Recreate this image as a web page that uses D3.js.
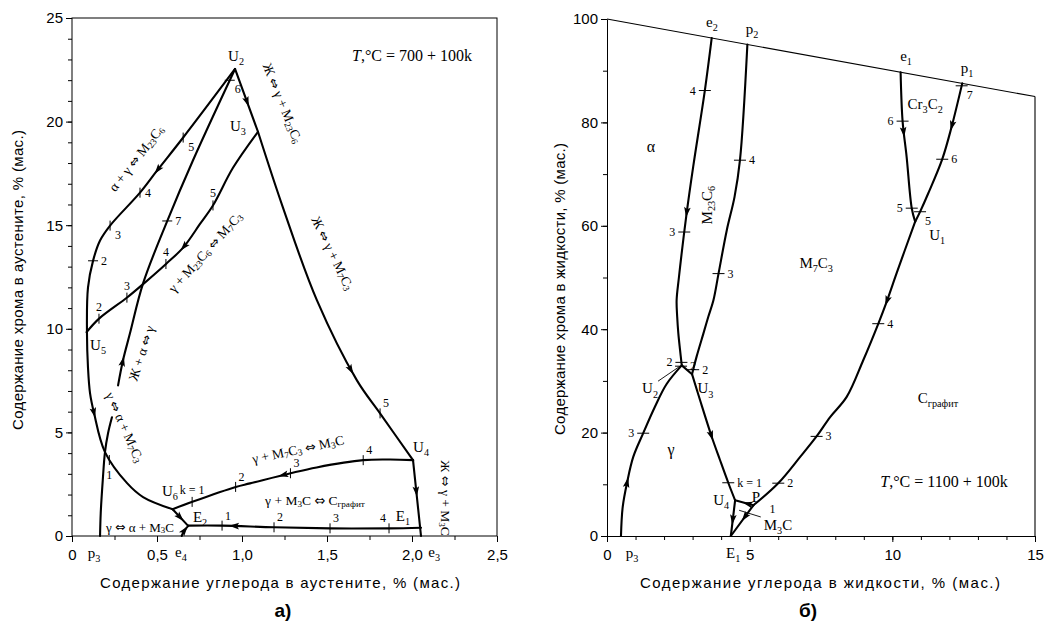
<!DOCTYPE html>
<html><head><meta charset="utf-8">
<script src="https://cdn.jsdelivr.net/npm/d3@7"></script>
<style>
body{margin:0;background:#fff;}
svg{display:block;}
</style></head><body>
<svg id="c" width="1045" height="623"></svg>
<script>
// ---------------- DATA ----------------
// axis ticks
const aXTicks = [0, 0.5, 1, 1.5, 2, 2.5];
const aXTickLabels = ["0", "0,5", "1,0", "1,5", "2,0", "2,5"];
const aYTicks = [0, 5, 10, 15, 20, 25];
const bXTicks = [0, 5, 10, 15];
const bYTicks = [0, 20, 40, 60, 80, 100];

// Panel a): C in austenite (x, %) vs Cr in austenite (y, %)
const aOuter  = [[0.959,22.54],[0.653,19.22],[0.5,17.63],[0.4,16.57],[0.224,14.98],[0.165,14.26],[0.124,13.29],[0.094,11.99],[0.088,9.83],[0.094,8.14],[0.106,6.9],[0.13,5.92],[0.194,4.05],[0.324,2.55],[0.418,1.88],[0.592,1.29]];
const aMid    = [[0.271,7.27],[0.3,8.48],[0.341,9.78],[0.418,12.19],[0.56,15.2],[0.71,18.1],[0.959,22.54]];
const aU3U5   = [[1.094,19.51],[0.947,17.77],[0.829,15.95],[0.753,15.06],[0.655,13.93],[0.553,13.13],[0.42,12.17],[0.324,11.51],[0.159,10.49],[0.086,9.84]];
const aU2U3   = [[0.959,22.54],[1.094,19.51]];
const aU3U4   = [[1.094,19.51],[1.241,15.85],[1.441,11.37],[1.676,7.51],[1.812,5.92],[2.006,3.66]];
const aU4E3   = [[2.006,3.66],[2.053,0]];
const aBottom = [[2.053,0.40],[1.865,0.37],[1.518,0.37],[1.188,0.42],[0.882,0.50],[0.682,0.50]];
const aU4U6   = [[2.007,3.66],[1.871,3.69],[1.713,3.66],[1.439,3.31],[1.286,3.03],[1.047,2.54],[0.963,2.37],[0.708,1.65],[0.592,1.29]];
const aU6E2   = [[0.592,1.29],[0.682,0.5]];
const aE4E2   = [[0.645,0],[0.66,0.25],[0.684,0.49]];
const aP3     = [[0.165,0],[0.169,1.11],[0.181,2.70],[0.194,4.05],[0.212,4.96],[0.235,5.73]];

// arrows: [curve, x, y]  (point along curve, direction = curve order)
const aArrows = [["outer",0.5,17.63],["outer",0.13,5.9],["u3u5",0.655,13.93],["mid",0.3,8.48],["u2u3",1.03,20.9],["u3u4",1.65,8.0],["u4e3",2.03,2.1],["u4u6",1.235,2.95],["bottom",0.947,0.49],["u6e2",0.64,0.88],["e4e2",0.668,0.3]];
// temperature marks: [curve, x, y, k, label side]
const aTicks = [["outer",0.653,19.22,"5","dr"],["outer",0.4,16.57,"4","r"],["outer",0.224,14.98,"3","dr"],["outer",0.124,13.29,"2","r"],["outer",0.224,3.7,"1","d"],
  ["mid",0.56,15.2,"7","r"],["mid",0.93,22.0,"6","dr"],
  ["u3u5",0.159,10.49,"2","u"],["u3u5",0.324,11.51,"3","u"],["u3u5",0.553,13.13,"4","u"],["u3u5",0.829,15.95,"5","u"],
  ["u3u4",1.812,5.92,"5","ur"],
  ["u4u6",0.708,1.65,"k = 1","u"],["u4u6",0.963,2.37,"2","ur"],["u4u6",1.286,3.03,"3","ur"],["u4u6",1.713,3.66,"4","ur"],
  ["bottom",0.882,0.5,"1","ur"],["bottom",1.188,0.42,"2","ur"],["bottom",1.518,0.37,"3","ur"],["bottom",1.865,0.37,"4","ul"]];
// labels: [text, x, y, angle, size]
const aLabels = [["*T*,°C = 700 + 100k",2.0,22.92,0,16],["U_{2}",0.965,22.92,0,15],["U_{3}",0.976,19.55,0,15],["U_{5}",0.153,8.98,0,15],
  ["U_{6}",0.576,1.93,0,15],["E_{2}",0.753,0.68,0,15],["E_{1}",1.947,0.72,0,15],["U_{4}",2.053,4.05,0,15],
  ["p_{3}",0.13,-1.06,0,15],["e_{4}",0.641,-1.01,0,15],["e_{3}",2.13,-1.01,0,15]];
const aRotLabels = [["α + γ ⇔ M_{23}C_{6}",0.376,18.24,-52,13.5],["Ж ⇔ γ + M_{23}C_{6}",1.241,20.9,68,13.5],["Ж ⇔ γ + M_{7}C_{3}",1.535,13.66,64,13.5],
  ["γ + M_{23}C_{6} ⇔ M_{7}C_{3}",0.782,13.71,-48,13.5],["Ж + α ⇔ γ",0.406,8.83,-72,13.5],["γ ⇔ α + M_{7}C_{3}",0.312,5.26,66,13.5],
  ["Ж ⇔ γ + M_{3}C",2.2,1.83,90,13.5],["γ + M_{7}C_{3} ⇔ M_{3}C",1.329,4.2,-12,13.5],
  ["γ + M_{3}C ⇔ C_{графит}",1.429,1.72,0,13.5],["γ ⇔ α + M_{3}C",0.4,0.45,0,13]];

// Panel б): C in liquid (x, %) vs Cr in liquid (y, %)
const bTop    = [[0,100],[15,85]];
const bRight  = [[15,85],[15,0]];
const bE2U2   = [[3.67,96.33],[3.43,86.2],[3.02,71.4],[2.79,62.4],[2.52,50],[2.44,45.6],[2.46,42.4],[2.50,39.2],[2.56,36.0],[2.62,33.0]];
const bP2U3   = [[4.92,95.08],[4.66,72.7],[4.47,65.6],[4.20,59.2],[3.91,50.8],[3.73,45.6],[3.55,42.4],[3.38,39.2],[3.14,34.7],[2.98,31.3]];
const bU2U3   = [[2.62,33.0],[2.98,31.3]];
const bP3U2   = [[0.49,0],[0.55,5.6],[0.71,10.5],[0.92,15.3],[1.27,19.9],[1.68,25],[2.09,29.4],[2.62,33.0]];
const bU3U4   = [[2.98,31.3],[3.26,26.3],[3.67,19.2],[3.96,14.7],[4.25,10.3],[4.49,6.9]];
const bU4E1   = [[4.49,6.9],[4.34,0]];
const bPU4    = [[5.13,5.94],[4.49,6.9]];
const bU1P    = [[10.80,60.8],[10.16,51.0],[9.80,45.3],[9.51,41.1],[8.98,34.0],[8.40,26.9],[7.82,23.0],[7.35,19.3],[6.77,15.3],[6.0,10.2],[5.13,5.94]];
const bPE1    = [[5.13,5.94],[4.34,0]];
const bE1U1   = [[10.29,89.71],[10.36,80.2],[10.50,73.4],[10.68,63.4],[10.80,60.8]];
const bP1U1   = [[12.45,87.55],[12.08,79.2],[11.75,72.9],[11.26,66.3],[10.97,62.7],[10.80,60.8]];

const bArrows = [["e2u2",2.79,62.4],["p3u2",0.71,10.5],["u3u4",3.67,19.2],["u4e1",4.38,3.0],["pu4",4.9,6.27],["u1p",9.80,45.3],["pe1",4.78,3.68],["e1u1",10.40,77.9],["p1u1",12.08,79.2]];
const bTicks = [["e2u2",3.43,86.2,"4","l"],["e2u2",2.73,58.8,"3","l"],["p2u3",4.66,72.7,"4","r"],["p2u3",3.91,50.8,"3","r"],
  ["e1u1",10.36,80.2,"6","l"],["e1u1",10.68,63.4,"5","l"],["p1u1",12.43,87.1,"7","dr"],["p1u1",11.75,72.9,"6","r"],["p1u1",10.97,62.7,"5","dr"],
  ["u1p",9.51,41.1,"4","r"],["u1p",7.35,19.3,"3","r"],["u1p",6.0,10.2,"2","r"],["u3u4",4.25,10.3,"k = 1","r"],["p3u2",1.27,19.9,"3","l"],
  ["e2u2",2.61,33.6,"2","l"],["p3u2",2.58,32.9,"2","r"],["p2u3",3.03,32.2,"2","r"]];
const bLabels = [["e_{2}",3.68,98.5,0,15],["p_{2}",5.08,97.1,0,15],["e_{1}",10.48,91.9,0,15],["p_{1}",12.62,89.6,0,15],
  ["Cr_{3}C_{2}",11.15,82.6,0,15],["α",1.54,74.3,0,16],["M_{7}C_{3}",7.33,51.8,0,15],["U_{1}",11.57,57.2,0,15],
  ["C_{графит}",11.6,25.7,0,15],["U_{2}",1.51,27.6,0,15],["U_{3}",3.45,27.6,0,15],["γ",2.24,15.6,0,16],
  ["*T*,°C = 1100 + 100k",11.81,9.43,0,16],["P",5.22,6.55,0,15],["U_{4}",4.0,6.0,0,15],["1",5.8,4.4,0,12],
  ["M_{3}C",5.99,1.25,0,15],["p_{3}",0.88,-4.2,0,15],["E_{1}",4.42,-4.2,0,15]];
const bRotLabels = [["M_{23}C_{6}",3.50,64.0,-90,15]];
const bLeaders = [[[1.79,29.95],[2.56,32.85]],[[4.63,4.98],[5.39,3.68]]];

const titles = {
  aX: "Содержание углерода в аустените, % (мас.)",
  aY: "Содержание хрома в аустените, % (мас.)",
  bX: "Содержание углерода в жидкости, % (мас.)",
  bY: "Содержание хрома в жидкости, % (мас.)",
  aP: "а)", bP: "б)"
};

// ---------------- DRAWING ----------------
const svg = d3.select("#c");
const SANS = "'Liberation Sans', Arial, sans-serif";
const SERIF = "'Liberation Serif', 'Times New Roman', serif";

const xA = d3.scaleLinear().domain([0, 2.5]).range([72, 497]);
const yA = d3.scaleLinear().domain([0, 25]).range([536, 18]);
const xB = d3.scaleLinear().domain([0, 15]).range([607, 1035]);
const yB = d3.scaleLinear().domain([0, 100]).range([536, 19]);

function rich(sel, str, fs) {
  const parts = str.split(/(_\{[^}]*\}|\*[^*]*\*|⇔)/g).filter(s => s.length);
  let shifted = 0; const sh = fs * 0.28;
  parts.forEach(p => {
    const t = sel.append("tspan");
    if (p.startsWith("_{")) { t.text(p.slice(2, -1)).attr("font-size", fs * 0.68).attr("dy", sh - shifted); shifted = sh; }
    else if (p.startsWith("*")) { t.text(p.slice(1, -1)).attr("font-style", "italic").attr("dy", -shifted); shifted = 0; }
    else if (p === "⇔") { t.text(p).attr("font-family", "'DejaVu Sans', sans-serif").attr("font-size", fs * 0.95).attr("dy", -shifted); shifted = 0; }
    else { t.text(p).attr("dy", -shifted); shifted = 0; }
  });
}

function nearest(node, px, py) {
  const L = node.getTotalLength();
  let best = 0, bd = Infinity;
  for (let l = 0; l <= L; l += 0.5) { const p = node.getPointAtLength(l); const d = (p.x - px) ** 2 + (p.y - py) ** 2; if (d < bd) { bd = d; best = l; } }
  const p = node.getPointAtLength(best);
  const a = node.getPointAtLength(Math.max(0, best - 1.5)), b = node.getPointAtLength(Math.min(L, best + 1.5));
  return { x: p.x, y: p.y, ang: Math.atan2(b.y - a.y, b.x - a.x) };
}

function panel(cfg) {
  const g = svg.append("g");
  const line = d3.line().x(d => cfg.x(d[0])).y(d => cfg.y(d[1])).curve(d3.curveCatmullRom.alpha(0.5));
  const nodes = {};
  Object.entries(cfg.curves).forEach(([k, pts]) => {
    nodes[k] = g.append("path").attr("d", line(pts)).attr("fill", "none").attr("stroke", "#000")
      .attr("stroke-width", 2.1).attr("stroke-linejoin", "round").attr("stroke-linecap", "round").node();
  });
  (cfg.thin || []).forEach(pts => {
    g.append("path").attr("d", d3.line().x(d => cfg.x(d[0])).y(d => cfg.y(d[1]))(pts)).attr("fill", "none").attr("stroke", "#000").attr("stroke-width", 1.1);
  });
  cfg.arrows.forEach(([c, x, y]) => {
    const n = nearest(nodes[c], cfg.x(x), cfg.y(y));
    g.append("path").attr("d", "M4,0 L-6,-3.3 L-4,0 L-6,3.3 Z").attr("fill", "#000")
      .attr("transform", `translate(${n.x},${n.y}) rotate(${n.ang * 180 / Math.PI})`);
  });
  cfg.ticks.forEach(([c, x, y, t, side]) => {
    const n = nearest(nodes[c], cfg.x(x), cfg.y(y));
    const horiz = cfg.allH || Math.abs(Math.sin(n.ang)) > 0.87;
    const h = cfg.tickHalf;
    if (horiz) g.append("line").attr("x1", n.x - h).attr("x2", n.x + h).attr("y1", n.y).attr("y2", n.y).attr("stroke", "#000").attr("stroke-width", 1);
    else g.append("line").attr("x1", n.x).attr("x2", n.x).attr("y1", n.y - 5).attr("y2", n.y + 5).attr("stroke", "#000").attr("stroke-width", 1);
    let lx = n.x, ly = n.y + 4, anc = "start";
    if (side === "r") { lx = n.x + (horiz ? h + 3 : 5); }
    else if (side === "l") { lx = n.x - (horiz ? h + 3 : 5); anc = "end"; }
    else if (side === "u") { ly = n.y - 8; anc = "middle"; }
    else if (side === "ur") { lx = n.x + 3; ly = n.y - 6; }
    else if (side === "ul") { lx = n.x - 3; ly = n.y - 6; anc = "end"; }
    else if (side === "dr") { lx = n.x + 5; ly = n.y + 13; }
    else if (side === "d") { ly = n.y + 19; anc = "middle"; }
    g.append("text").attr("x", lx).attr("y", ly).attr("text-anchor", anc).attr("font-family", SERIF).attr("font-size", 12).text(t);
  });
  cfg.labels.forEach(([t, x, y, a, fs]) => {
    const tx = g.append("text").attr("x", cfg.x(x)).attr("y", cfg.y(y)).attr("text-anchor", "middle").attr("font-family", SERIF).attr("font-size", fs);
    rich(tx, t, fs);
  });
  cfg.rot.forEach(([t, x, y, a, fs]) => {
    const tx = g.append("text").attr("text-anchor", "middle").attr("dominant-baseline", "central").attr("font-family", SERIF).attr("font-size", fs)
      .attr("transform", `translate(${cfg.x(x)},${cfg.y(y)}) rotate(${a})`);
    rich(tx, t, fs);
  });
  (cfg.leaders || []).forEach(pts => {
    g.append("line").attr("x1", cfg.x(pts[0][0])).attr("y1", cfg.y(pts[0][1])).attr("x2", cfg.x(pts[1][0])).attr("y2", cfg.y(pts[1][1])).attr("stroke", "#000").attr("stroke-width", 0.9);
  });
  return g;
}

function styleAxis(g) {
  g.attr("font-family", SANS).attr("font-size", 15);
  g.selectAll("line").attr("stroke", "#000");
  g.selectAll("path.domain").attr("stroke", "#000");
}

// ---- Panel a axes
svg.append("rect").attr("x", 72).attr("y", 18).attr("width", 425).attr("height", 518).attr("fill", "none").attr("stroke", "#000").attr("stroke-width", 1);
const aMinorX = d3.range(0, 2.51, 0.25);
const aMinorY = d3.range(0, 25.1, 1);
svg.append("g").attr("transform", "translate(0,536)").call(d3.axisBottom(xA).tickValues(aMinorX).tickSize(4).tickFormat("")).call(g => g.select(".domain").remove()).call(styleAxis);
svg.append("g").attr("transform", "translate(72,0)").call(d3.axisLeft(yA).tickValues(aMinorY).tickSize(4).tickFormat("")).call(g => g.select(".domain").remove()).call(styleAxis);
svg.append("g").attr("transform", "translate(0,536)").call(d3.axisBottom(xA).tickValues(aXTicks).tickSize(6).tickPadding(7).tickFormat((d, i) => aXTickLabels[i])).call(g => g.select(".domain").remove()).call(styleAxis);
svg.append("g").attr("transform", "translate(72,0)").call(d3.axisLeft(yA).tickValues(aYTicks).tickSize(6).tickPadding(3).tickFormat(d3.format("d"))).call(g => g.select(".domain").remove()).call(styleAxis);

// ---- Panel б axes
const bMinorX = d3.range(0, 15.1, 1);
const bMinorY = d3.range(0, 100.1, 10);
svg.append("g").attr("transform", "translate(0,536)").call(d3.axisBottom(xB).tickValues(bMinorX).tickSize(4).tickSizeOuter(0).tickFormat("")).call(styleAxis);
svg.append("g").attr("transform", "translate(607,0)").call(d3.axisLeft(yB).tickValues(bMinorY).tickSize(4).tickSizeOuter(0).tickFormat("")).call(styleAxis);
svg.append("g").attr("transform", "translate(0,536)").call(d3.axisBottom(xB).tickValues(bXTicks).tickSize(6).tickPadding(7).tickFormat(d3.format("d"))).call(g => g.select(".domain").remove()).call(styleAxis);
svg.append("g").attr("transform", "translate(607,0)").call(d3.axisLeft(yB).tickValues(bYTicks).tickSize(6).tickPadding(3).tickFormat(d3.format("d"))).call(g => g.select(".domain").remove()).call(styleAxis);

panel({ x: xA, y: yA, tickHalf: 5, allH: false,
  curves: { outer: aOuter, mid: aMid, u3u5: aU3U5, u2u3: aU2U3, u3u4: aU3U4, u4e3: aU4E3, bottom: aBottom, u4u6: aU4U6, u6e2: aU6E2, e4e2: aE4E2, p3: aP3 },
  arrows: aArrows, ticks: aTicks, labels: aLabels, rot: aRotLabels });

panel({ x: xB, y: yB, tickHalf: 6, allH: true,
  curves: { e2u2: bE2U2, p2u3: bP2U3, u2u3: bU2U3, p3u2: bP3U2, u3u4: bU3U4, u4e1: bU4E1, pu4: bPU4, u1p: bU1P, pe1: bPE1, e1u1: bE1U1, p1u1: bP1U1 },
  thin: [bTop, bRight],
  arrows: bArrows, ticks: bTicks, labels: bLabels, rot: bRotLabels, leaders: bLeaders });

// ---- titles
function title(t, x, y, rot, len) {
  svg.append("text").attr("text-anchor", "middle").attr("font-family", SANS).attr("font-size", 15)
    .attr("transform", `translate(${x},${y}) rotate(${rot})`).attr("textLength", len).attr("lengthAdjust", "spacing").text(t);
}
title(titles.aX, 280, 588, 0, 360);
title(titles.bX, 820, 588, 0, 360);
title(titles.aY, 23, 280, -90, 300);
title(titles.bY, 565, 289, -90, 292);
svg.append("text").attr("x", 283).attr("y", 617).attr("text-anchor", "middle").attr("font-family", SANS).attr("font-size", 19).attr("font-weight", "bold").text(titles.aP);
svg.append("text").attr("x", 808).attr("y", 617).attr("text-anchor", "middle").attr("font-family", SANS).attr("font-size", 19).attr("font-weight", "bold").text(titles.bP);
</script>
</body></html>
